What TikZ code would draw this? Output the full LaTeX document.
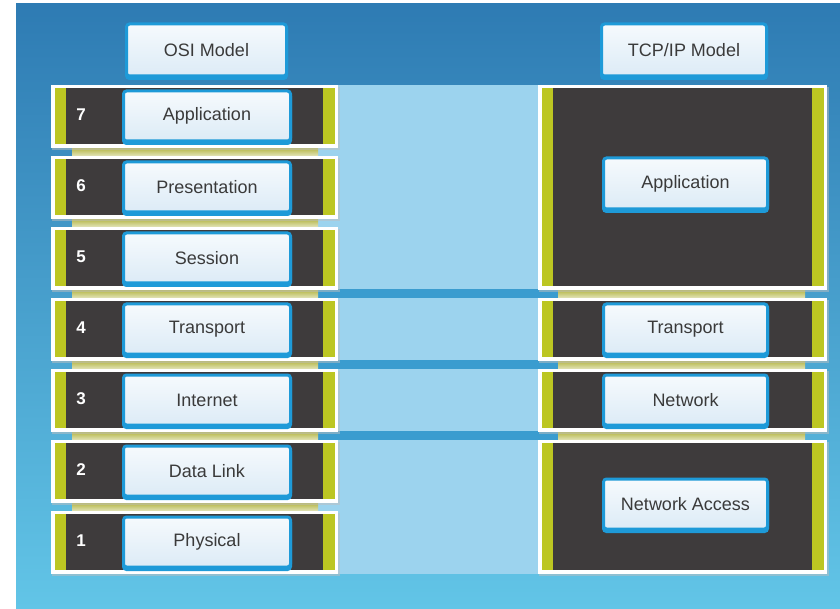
\documentclass[tikz,border=0pt]{standalone}
\usepackage{fontspec}
\setmainfont{Liberation Sans}
\definecolor{bgtop}{HTML}{2E7BB3}
\definecolor{bgbot}{HTML}{62C5E7}
\definecolor{midblue}{HTML}{9CD3EE}
\definecolor{stripe}{HTML}{3A9CCF}
\definecolor{khakitop}{HTML}{B4B646}
\definecolor{khakibot}{HTML}{E3E4BA}
\definecolor{lime}{HTML}{BCC622}
\definecolor{darkbox}{HTML}{3E3B3C}
\definecolor{btnblue}{HTML}{1E9AD8}
\definecolor{btntop}{HTML}{F6FAFD}
\definecolor{btnbot}{HTML}{DCEBF6}
\definecolor{txt}{HTML}{3A3A3A}
\tikzset{
  btn/.style={draw=btnblue, line width=3pt, rounded corners=3pt,
    top color=btntop, bottom color=btnbot, inner sep=0pt, outer sep=0pt,
    text=txt, font=\fontsize{18}{20}\selectfont,
    preaction={fill=btnblue, draw=btnblue, transform canvas={yshift=-2.5pt}}},
  lbtn/.style={btn, minimum width=167pt, minimum height=50pt},
  rbtn/.style={btn, minimum width=164pt, minimum height=50pt},
  numlbl/.style={text=white, font=\bfseries\fontsize{17}{19}\selectfont, inner sep=0pt},
  gapstrip/.style={top color=khakitop, bottom color=khakibot},
}
\newcommand\layerbox[4]{% x1, x2, top, bottom
  \fill[black!25, opacity=0.5] (#1+1,#3+2) rectangle (#2+2,#4+2);
  \fill[white] (#1,#3) rectangle (#2,#4);
  \fill[lime] (#1+4,#3+3) rectangle (#2-3,#4-4);
  \fill[darkbox] (#1+15,#3+3) rectangle (#2-15,#4-4);
}
\begin{document}
\begin{tikzpicture}[x=1pt,y=-1pt]
\useasboundingbox (0,0) rectangle (840,609);
\fill[white] (0,0) rectangle (840,609);
\shade[top color=bgtop, bottom color=bgbot] (16,4) rectangle (840,609);

% middle band and stripes
\fill[midblue] (318,85) rectangle (558,574);
\foreach \y in {290,361,432}
  \fill[stripe] (318,\y-1) rectangle (558,\y+8);

% khaki backing strips in the gaps
\foreach \y in {148,219,290,361,432,503}
  \shade[gapstrip] (72,\y) rectangle (318,\y+8);
\foreach \y in {290,361,432}
  \shade[gapstrip] (558,\y) rectangle (805,\y+8);

% headers
\node[lbtn, minimum width=160pt, minimum height=52pt] (osi) at (206.5,50) {OSI Model};
\node[rbtn, minimum width=165pt, minimum height=52pt] (tcp) at (684,50) {TCP/IP Model};

% OSI layers
\foreach \k/\n/\t in {0/7/Application,1/6/Presentation,2/5/Session,3/4/Transport,4/3/Internet,5/2/Data Link,6/1/Physical}{
  \pgfmathsetmacro\ltop{85+71*\k}
  \pgfmathsetmacro\lbot{\ltop+63}
  \layerbox{51}{338}{\ltop}{\lbot}
  \node[numlbl] (n\n) at (81,\ltop+30) {\n};
  \node[lbtn] (osi\n) at (207,\ltop+31) {\t};
}

% TCP/IP layers
\layerbox{538}{827}{85}{290}
\node[rbtn, minimum height=51pt] (tapp) at (685.5,183.5) {Application};
\layerbox{538}{827}{298}{361}
\node[rbtn] (ttrans) at (685.5,329) {Transport};
\layerbox{538}{827}{369}{432}
\node[rbtn] (tnet) at (685.5,400) {Network};
\layerbox{538}{827}{440}{574}
\node[rbtn] (tacc) at (685.5,504) {Network Access};
\end{tikzpicture}
\end{document}
